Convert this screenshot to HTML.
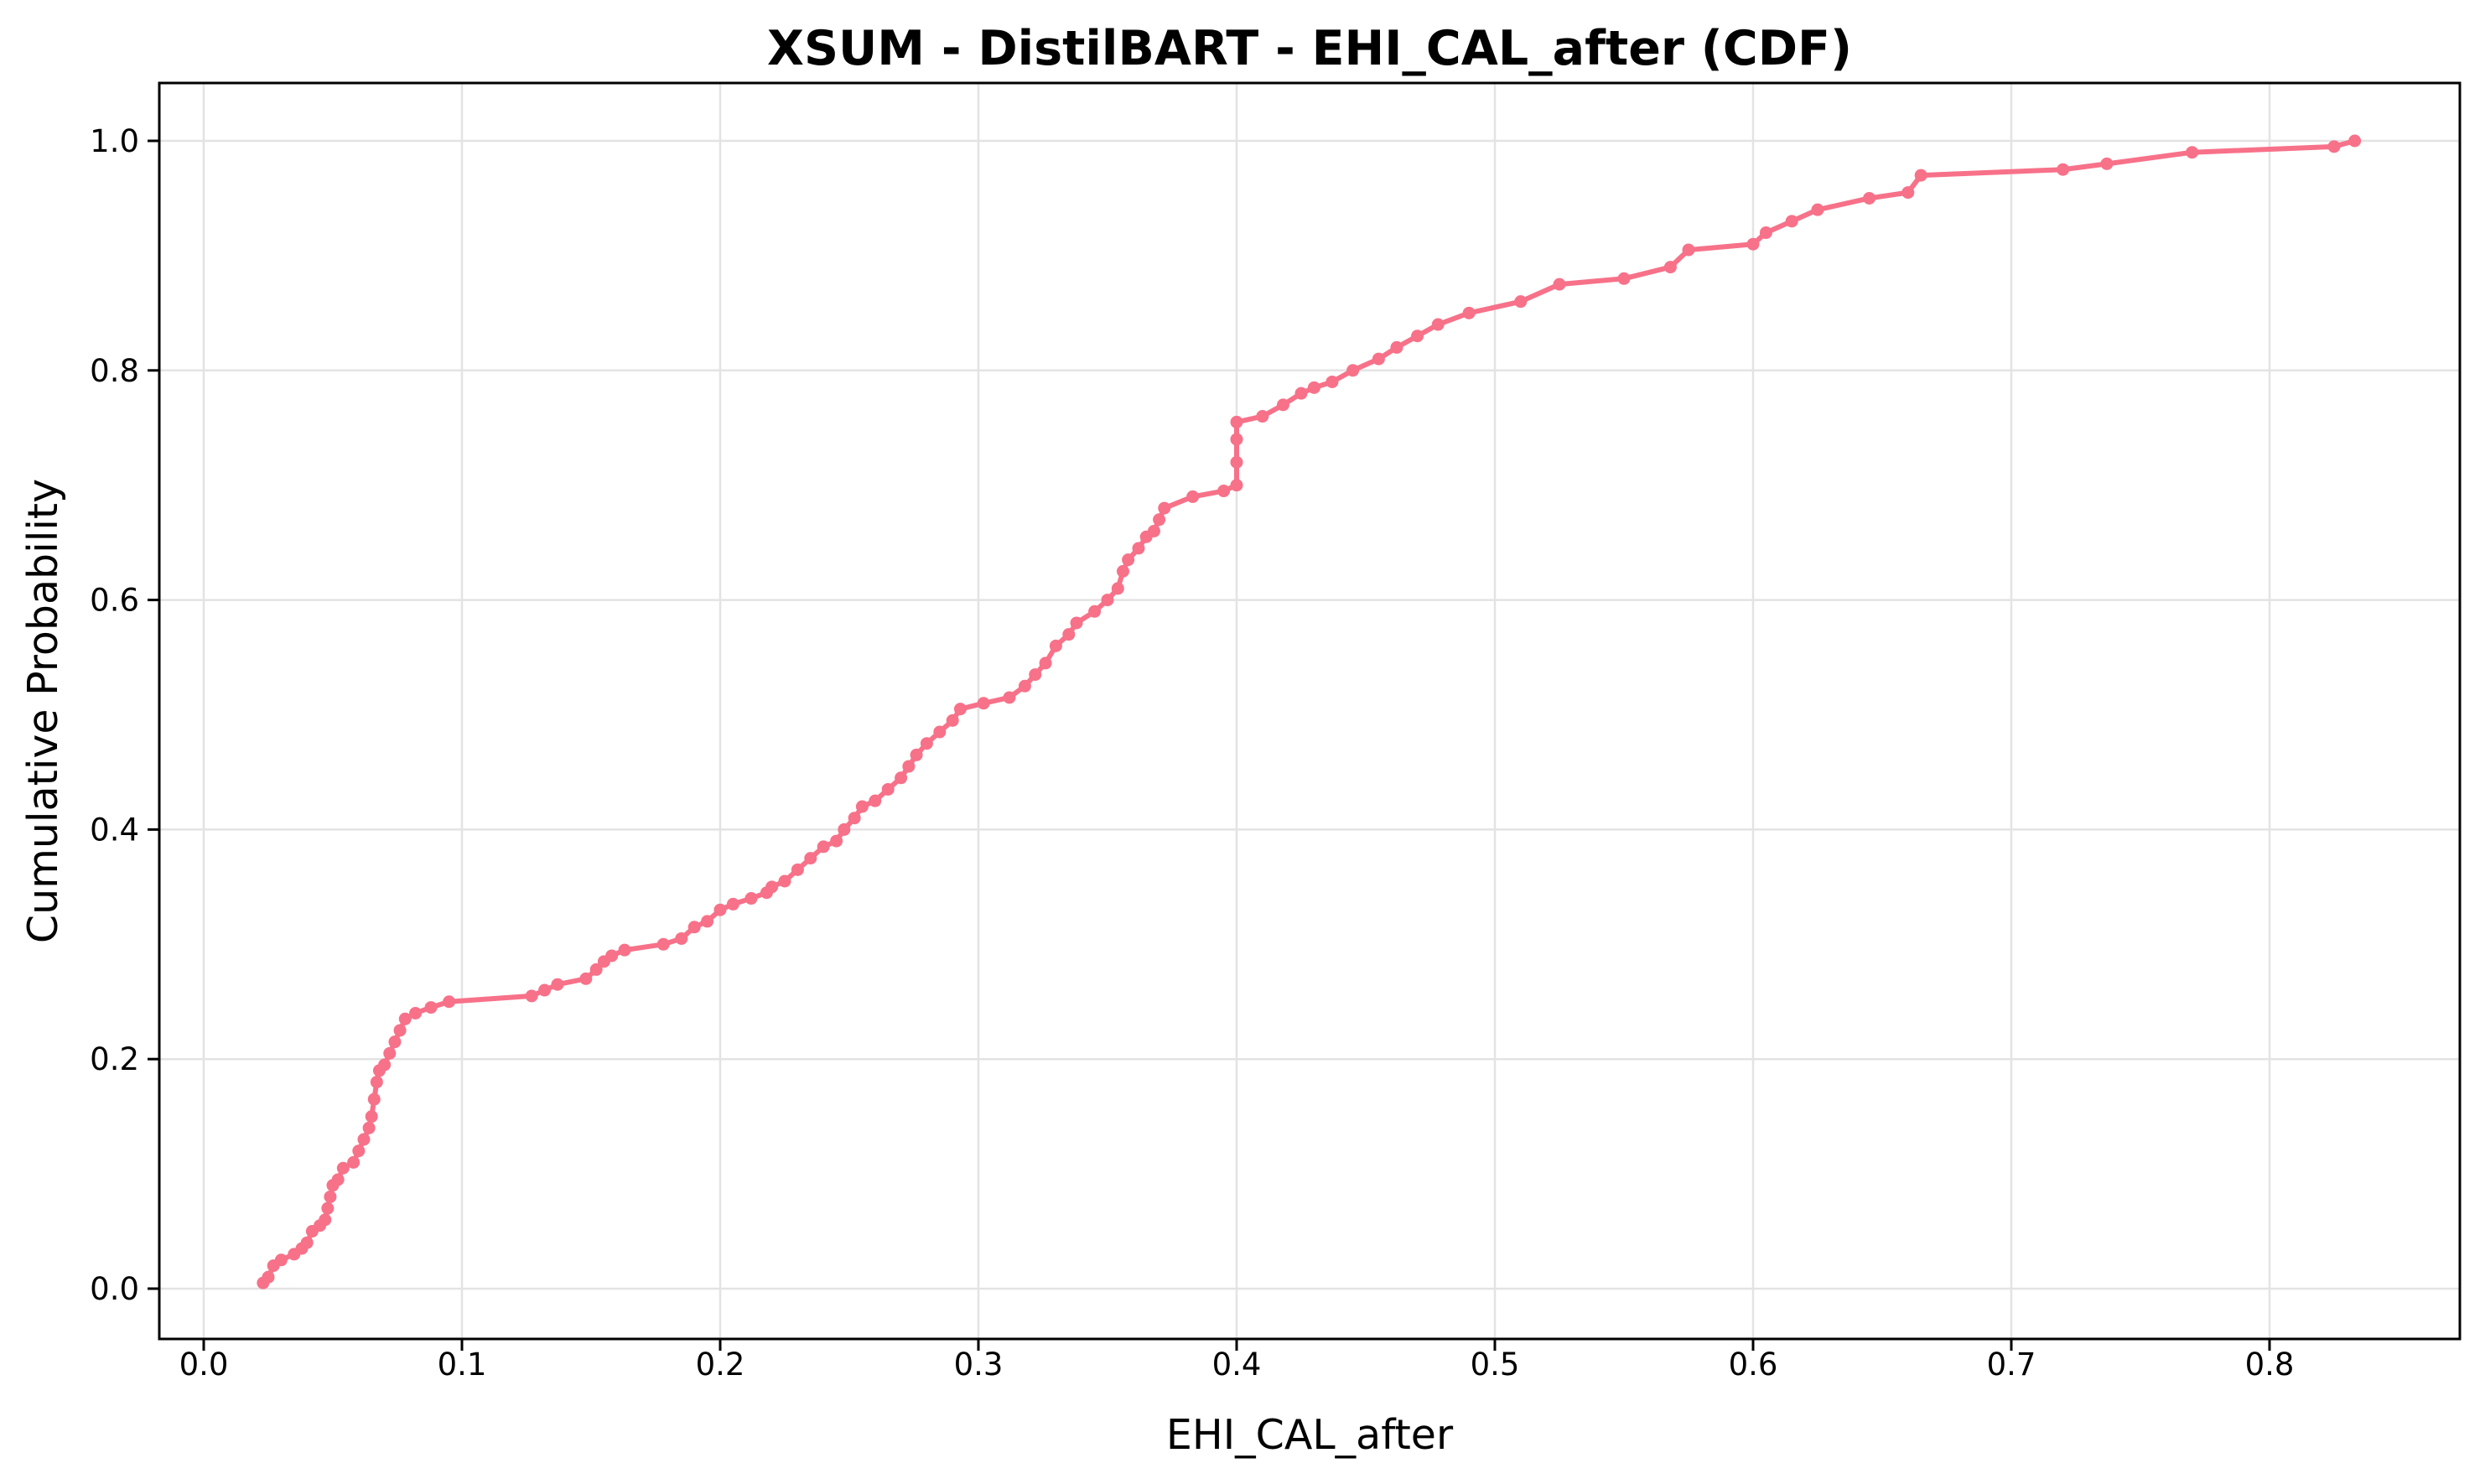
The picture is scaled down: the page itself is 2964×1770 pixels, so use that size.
<!DOCTYPE html>
<html><head><meta charset="utf-8"><style>
body{margin:0;background:#fff;}
svg text{font-family:"DejaVu Sans","Liberation Sans",sans-serif;}
</style></head><body>
<svg id="chart" width="2964" height="1765" viewBox="0 0 2964 1765" xmlns="http://www.w3.org/2000/svg">
<rect width="2964" height="1765" fill="#fff"/>
<text x="1562" y="77" text-anchor="middle" font-size="57" font-weight="bold">XSUM - DistilBART - EHI_CAL_after (CDF)</text>
<g id="grid"></g>
<g id="series"></g>
<rect x="190" y="99" width="2744" height="1498" fill="none" stroke="#000" stroke-width="3"/>
<g id="ticks"></g>
<text x="1562" y="1728" text-anchor="middle" font-size="49">EHI_CAL_after</text>
<text transform="translate(68,848) rotate(-90)" text-anchor="middle" font-size="49">Cumulative Probability</text>
</svg>
<script>
const xTicks=[0.0,0.1,0.2,0.3,0.4,0.5,0.6,0.7,0.8];
const yTicks=[0.0,0.2,0.4,0.6,0.8,1.0];
const xVals=[0.023,0.025,0.027,0.03,0.035,0.038,0.04,0.042,0.045,0.047,0.048,0.049,0.05,0.052,0.054,0.058,0.06,0.062,0.064,0.065,0.066,0.067,0.068,0.07,0.072,0.074,0.076,0.078,0.082,0.088,0.095,0.127,0.132,0.137,0.148,0.152,0.155,0.158,0.163,0.178,0.185,0.19,0.195,0.2,0.205,0.212,0.218,0.22,0.225,0.23,0.235,0.24,0.245,0.248,0.252,0.255,0.26,0.265,0.27,0.273,0.276,0.28,0.285,0.29,0.293,0.302,0.312,0.318,0.322,0.326,0.33,0.335,0.338,0.345,0.35,0.354,0.356,0.358,0.362,0.365,0.368,0.37,0.372,0.383,0.395,0.4,0.4,0.4,0.4,0.41,0.418,0.425,0.43,0.437,0.445,0.455,0.462,0.47,0.478,0.49,0.51,0.525,0.55,0.568,0.575,0.6,0.605,0.615,0.625,0.645,0.66,0.665,0.72,0.737,0.77,0.825,0.833];
const yVals=[0.005,0.01,0.02,0.025,0.03,0.035,0.04,0.05,0.055,0.06,0.07,0.08,0.09,0.095,0.105,0.11,0.12,0.13,0.14,0.15,0.165,0.18,0.19,0.195,0.205,0.215,0.225,0.235,0.24,0.245,0.25,0.255,0.26,0.265,0.27,0.278,0.285,0.29,0.295,0.3,0.305,0.315,0.32,0.33,0.335,0.34,0.345,0.35,0.355,0.365,0.375,0.385,0.39,0.4,0.41,0.42,0.425,0.435,0.445,0.455,0.465,0.475,0.485,0.495,0.505,0.51,0.515,0.525,0.535,0.545,0.56,0.57,0.58,0.59,0.6,0.61,0.625,0.635,0.645,0.655,0.66,0.67,0.68,0.69,0.695,0.7,0.72,0.74,0.755,0.76,0.77,0.78,0.785,0.79,0.8,0.81,0.82,0.83,0.84,0.85,0.86,0.875,0.88,0.89,0.905,0.91,0.92,0.93,0.94,0.95,0.955,0.97,0.975,0.98,0.99,0.995,1.0];
const NS="http://www.w3.org/2000/svg";
function xs(v){return 243+v*3080;}
function ys(v){return 1537-v*1369;}
function mk(tag,attrs,parent){const e=document.createElementNS(NS,tag);for(const k in attrs)e.setAttribute(k,attrs[k]);parent.appendChild(e);return e;}
const grid=document.getElementById('grid'),ticks=document.getElementById('ticks'),series=document.getElementById('series');
xTicks.forEach(t=>{
  const g=mk('line',{x1:xs(t),x2:xs(t),y1:99,y2:1597,stroke:'#e3e3e3','stroke-width':2.5},grid);
  
  
  const tk=mk('line',{x1:xs(t),x2:xs(t),y1:1597,y2:1611,stroke:'#000','stroke-width':3},ticks);
  
  
  const tx=mk('text',{x:xs(t),y:1640,'text-anchor':'middle','font-size':37},ticks);
  
  
  tx.textContent=t.toFixed(1);
});
yTicks.forEach(t=>{
  const g=mk('line',{x1:190,x2:2934,y1:ys(t),y2:ys(t),stroke:'#e3e3e3','stroke-width':2.5},grid);
  
  
  const tk=mk('line',{x1:176,x2:190,y1:ys(t),y2:ys(t),stroke:'#000','stroke-width':3},ticks);
  
  
  const tx=mk('text',{x:166,y:ys(t)+13,'text-anchor':'end','font-size':37},ticks);
  
  
  tx.textContent=t.toFixed(1);
});
const pts=xVals.map((x,i)=>xs(x)+','+ys(yVals[i])).join(' ');
const line=mk('polyline',{points:pts,fill:'none',stroke:'#f77189','stroke-width':6,'stroke-linejoin':'round'},series);


xVals.forEach((x,i)=>{
  const c=mk('circle',{cx:xs(x),cy:ys(yVals[i]),r:7.5,fill:'#f77189'},series);
  
  
});
</script>
</body></html>
